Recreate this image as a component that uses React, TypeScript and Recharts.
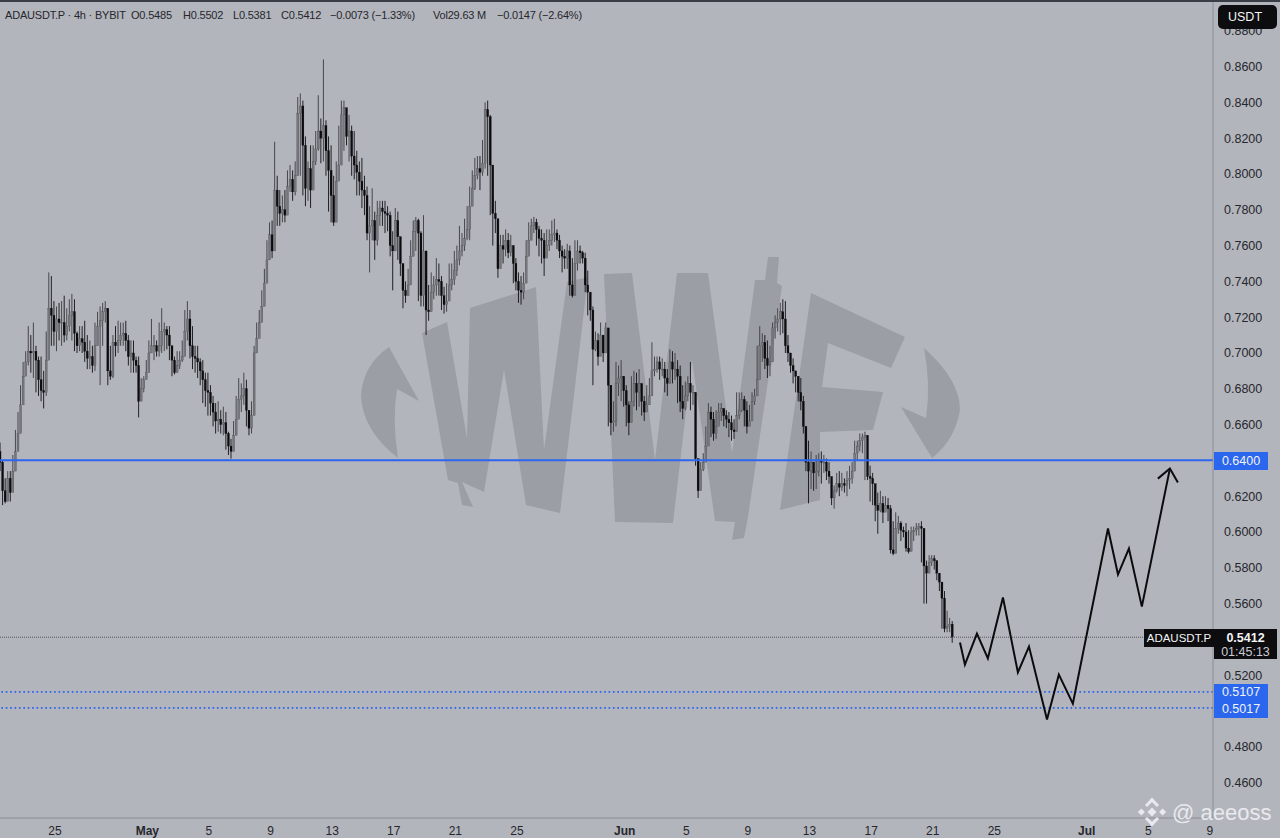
import { Bar, ComposedChart, Line, ReferenceLine, XAxis, YAxis } from "recharts";

const firstOpen = 0.645;

// one row = 12 candles of 4h = 2 days
const closes = [
  0.639, 0.623, 0.617, 0.63, 0.622, 0.634, 0.645, 0.655, 0.671, 0.687, 0.695, 0.701,
  0.7, 0.701, 0.696, 0.685, 0.679, 0.678, 0.696, 0.725, 0.721, 0.712, 0.719, 0.717,
  0.717, 0.71, 0.715, 0.721, 0.723, 0.711, 0.704, 0.708, 0.706, 0.701, 0.697, 0.698,
  0.693, 0.704, 0.715, 0.718, 0.723, 0.725, 0.69, 0.687, 0.706, 0.704, 0.707, 0.71,
  0.711, 0.707, 0.698, 0.7, 0.696, 0.693, 0.673, 0.68, 0.685, 0.689, 0.7, 0.704,
  0.704, 0.701, 0.704, 0.712, 0.713, 0.71, 0.704, 0.696, 0.689, 0.693, 0.696, 0.698,
  0.712, 0.719, 0.704, 0.698, 0.697, 0.695, 0.69, 0.685, 0.679, 0.678, 0.672, 0.667,
  0.662, 0.663, 0.66, 0.661, 0.655, 0.648, 0.645, 0.654, 0.663, 0.674, 0.676, 0.68,
  0.668, 0.658, 0.665, 0.7, 0.708, 0.717, 0.726, 0.739, 0.752, 0.766, 0.757, 0.791,
  0.782, 0.778, 0.78, 0.777, 0.793, 0.797, 0.79, 0.799, 0.834, 0.838, 0.816, 0.792,
  0.803, 0.791, 0.807, 0.814, 0.824, 0.82, 0.827, 0.813, 0.802, 0.788, 0.773, 0.796,
  0.805, 0.833, 0.837, 0.821, 0.824, 0.81, 0.805, 0.801, 0.796, 0.791, 0.788, 0.767,
  0.771, 0.774, 0.763, 0.777, 0.781, 0.779, 0.778, 0.777, 0.76, 0.757, 0.774, 0.765,
  0.75, 0.735, 0.732, 0.738, 0.754, 0.768, 0.774, 0.767, 0.732, 0.757, 0.724, 0.723,
  0.734, 0.738, 0.741, 0.74, 0.732, 0.727, 0.729, 0.738, 0.741, 0.746, 0.752, 0.757,
  0.76, 0.764, 0.769, 0.782, 0.792, 0.799, 0.803, 0.801, 0.806, 0.836, 0.832, 0.805,
  0.778, 0.775, 0.747, 0.76, 0.758, 0.763, 0.756, 0.76, 0.75, 0.74, 0.735, 0.734,
  0.739, 0.754, 0.763, 0.771, 0.773, 0.769, 0.764, 0.763, 0.753, 0.76, 0.763, 0.766,
  0.767, 0.763, 0.757, 0.754, 0.753, 0.757, 0.738, 0.732, 0.75, 0.757, 0.756, 0.753,
  0.738, 0.734, 0.724, 0.702, 0.707, 0.698, 0.71, 0.7, 0.714, 0.682, 0.661, 0.662,
  0.683, 0.686, 0.687, 0.679, 0.671, 0.661, 0.673, 0.683, 0.678, 0.683, 0.673, 0.667,
  0.671, 0.676, 0.69, 0.691, 0.695, 0.691, 0.691, 0.686, 0.683, 0.695, 0.691, 0.691,
  0.687, 0.673, 0.669, 0.676, 0.683, 0.678, 0.678, 0.641, 0.623, 0.635, 0.639, 0.648,
  0.667, 0.663, 0.655, 0.659, 0.667, 0.669, 0.665, 0.663, 0.661, 0.657, 0.656, 0.665,
  0.668, 0.674, 0.668, 0.659, 0.662, 0.673, 0.676, 0.685, 0.704, 0.706, 0.697, 0.693,
  0.695, 0.714, 0.717, 0.719, 0.723, 0.719, 0.704, 0.7, 0.693, 0.69, 0.687, 0.678,
  0.673, 0.659, 0.639, 0.634, 0.639, 0.633, 0.634, 0.64, 0.639, 0.639, 0.634, 0.631,
  0.619, 0.623, 0.627, 0.625, 0.627, 0.626, 0.629, 0.63, 0.634, 0.644, 0.648, 0.651,
  0.653, 0.654, 0.631, 0.63, 0.627, 0.615, 0.612, 0.616, 0.611, 0.615, 0.613, 0.59,
  0.588, 0.602, 0.605, 0.601, 0.6, 0.591, 0.589, 0.6, 0.601, 0.602, 0.603, 0.602,
  0.581, 0.577, 0.583, 0.585, 0.584, 0.577, 0.572, 0.563, 0.546, 0.547, 0.5485, 0.5412,
];

const highs = [
  0.65, 0.64, 0.63, 0.634, 0.634, 0.643, 0.657, 0.667, 0.682, 0.695, 0.701, 0.715,
  0.71, 0.717, 0.704, 0.698, 0.698, 0.69, 0.712, 0.745, 0.743, 0.729, 0.726, 0.728,
  0.729, 0.732, 0.725, 0.73, 0.733, 0.73, 0.712, 0.715, 0.715, 0.718, 0.71, 0.707,
  0.704, 0.717, 0.723, 0.726, 0.728, 0.729, 0.719, 0.704, 0.71, 0.715, 0.718, 0.717,
  0.717, 0.718, 0.71, 0.707, 0.707, 0.698, 0.698, 0.686, 0.687, 0.696, 0.707, 0.719,
  0.71, 0.707, 0.717, 0.725, 0.717, 0.715, 0.715, 0.704, 0.698, 0.701, 0.701, 0.707,
  0.724, 0.729, 0.724, 0.715, 0.704, 0.704, 0.697, 0.696, 0.689, 0.689, 0.682, 0.676,
  0.672, 0.673, 0.668, 0.67, 0.667, 0.656, 0.652, 0.662, 0.676, 0.686, 0.683, 0.689,
  0.685, 0.668, 0.673, 0.704, 0.717, 0.724, 0.735, 0.747, 0.763, 0.773, 0.774, 0.818,
  0.799, 0.791, 0.788, 0.791, 0.802, 0.805, 0.802, 0.807, 0.843, 0.845, 0.841, 0.821,
  0.807, 0.816, 0.816, 0.824, 0.844, 0.831, 0.864, 0.83, 0.821, 0.816, 0.799, 0.807,
  0.827, 0.841, 0.841, 0.836, 0.833, 0.827, 0.824, 0.813, 0.807, 0.809, 0.799, 0.793,
  0.782, 0.792, 0.779, 0.785, 0.785, 0.785, 0.785, 0.782, 0.779, 0.768, 0.781, 0.779,
  0.763, 0.749, 0.74, 0.747, 0.763, 0.774, 0.776, 0.775, 0.768, 0.777, 0.757, 0.738,
  0.745, 0.743, 0.753, 0.75, 0.743, 0.737, 0.739, 0.75, 0.75, 0.757, 0.76, 0.771,
  0.767, 0.775, 0.782, 0.793, 0.802, 0.809, 0.81, 0.81, 0.819, 0.84, 0.841, 0.833,
  0.788, 0.785, 0.771, 0.766, 0.766, 0.769, 0.767, 0.766, 0.76, 0.753, 0.745, 0.743,
  0.745, 0.763, 0.773, 0.775, 0.776, 0.775, 0.771, 0.769, 0.767, 0.769, 0.769, 0.774,
  0.775, 0.769, 0.766, 0.76, 0.758, 0.761, 0.76, 0.753, 0.763, 0.763, 0.76, 0.757,
  0.756, 0.746, 0.732, 0.726, 0.712, 0.711, 0.717, 0.71, 0.717, 0.712, 0.682, 0.673,
  0.695, 0.693, 0.696, 0.687, 0.682, 0.673, 0.687, 0.69, 0.689, 0.691, 0.682, 0.676,
  0.682, 0.686, 0.706, 0.698, 0.698, 0.698, 0.697, 0.695, 0.691, 0.702, 0.701, 0.7,
  0.696, 0.693, 0.682, 0.684, 0.687, 0.695, 0.682, 0.678, 0.64, 0.639, 0.644, 0.659,
  0.672, 0.67, 0.667, 0.668, 0.672, 0.672, 0.669, 0.668, 0.667, 0.665, 0.663, 0.678,
  0.678, 0.678, 0.676, 0.673, 0.671, 0.678, 0.68, 0.704, 0.715, 0.711, 0.71, 0.707,
  0.704, 0.717, 0.721, 0.725, 0.728, 0.73, 0.729, 0.71, 0.7, 0.697, 0.69, 0.687,
  0.686, 0.676, 0.659, 0.651, 0.645, 0.639, 0.643, 0.644, 0.645, 0.643, 0.641, 0.639,
  0.63, 0.626, 0.633, 0.634, 0.633, 0.63, 0.634, 0.637, 0.639, 0.651, 0.651, 0.655,
  0.655, 0.656, 0.654, 0.637, 0.633, 0.623, 0.622, 0.623, 0.62, 0.62, 0.619, 0.615,
  0.606, 0.611, 0.609, 0.606, 0.603, 0.605, 0.601, 0.603, 0.603, 0.605, 0.605, 0.606,
  0.602, 0.584, 0.587, 0.587, 0.587, 0.584, 0.577, 0.572, 0.567, 0.556, 0.552, 0.5502,
];

const lows = [
  0.634, 0.615, 0.616, 0.62, 0.617, 0.626, 0.64, 0.651, 0.656, 0.673, 0.689, 0.693,
  0.689, 0.686, 0.678, 0.676, 0.673, 0.669, 0.676, 0.707, 0.704, 0.704, 0.701, 0.707,
  0.704, 0.706, 0.707, 0.712, 0.707, 0.701, 0.7, 0.701, 0.7, 0.695, 0.691, 0.691,
  0.689, 0.69, 0.704, 0.682, 0.704, 0.717, 0.682, 0.685, 0.686, 0.698, 0.7, 0.704,
  0.704, 0.701, 0.693, 0.689, 0.689, 0.689, 0.664, 0.676, 0.678, 0.686, 0.696, 0.701,
  0.696, 0.698, 0.698, 0.7, 0.701, 0.702, 0.696, 0.687, 0.688, 0.689, 0.691, 0.695,
  0.704, 0.707, 0.697, 0.691, 0.689, 0.686, 0.682, 0.672, 0.67, 0.665, 0.665, 0.659,
  0.655, 0.656, 0.655, 0.654, 0.646, 0.643, 0.641, 0.645, 0.654, 0.671, 0.667, 0.671,
  0.659, 0.654, 0.655, 0.671, 0.704, 0.71, 0.721, 0.735, 0.746, 0.757, 0.753, 0.782,
  0.771, 0.771, 0.773, 0.773, 0.782, 0.79, 0.785, 0.788, 0.799, 0.799, 0.788, 0.782,
  0.785, 0.781, 0.799, 0.805, 0.813, 0.806, 0.807, 0.799, 0.779, 0.773, 0.771, 0.788,
  0.799, 0.805, 0.813, 0.816, 0.807, 0.799, 0.797, 0.788, 0.788, 0.781, 0.777, 0.763,
  0.745, 0.763, 0.752, 0.76, 0.771, 0.771, 0.767, 0.768, 0.754, 0.735, 0.757, 0.752,
  0.743, 0.725, 0.728, 0.732, 0.75, 0.754, 0.757, 0.729, 0.726, 0.726, 0.71, 0.718,
  0.726, 0.73, 0.732, 0.732, 0.724, 0.722, 0.723, 0.73, 0.735, 0.738, 0.743, 0.749,
  0.754, 0.757, 0.763, 0.763, 0.782, 0.791, 0.797, 0.791, 0.799, 0.803, 0.799, 0.777,
  0.76, 0.767, 0.742, 0.75, 0.75, 0.754, 0.753, 0.754, 0.739, 0.735, 0.728, 0.727,
  0.73, 0.746, 0.757, 0.763, 0.767, 0.76, 0.754, 0.75, 0.743, 0.754, 0.757, 0.76,
  0.762, 0.758, 0.753, 0.745, 0.747, 0.747, 0.732, 0.731, 0.743, 0.746, 0.75, 0.75,
  0.734, 0.721, 0.718, 0.682, 0.701, 0.693, 0.701, 0.695, 0.7, 0.659, 0.654, 0.656,
  0.659, 0.676, 0.673, 0.67, 0.659, 0.654, 0.665, 0.67, 0.668, 0.67, 0.665, 0.662,
  0.667, 0.672, 0.685, 0.687, 0.689, 0.685, 0.687, 0.678, 0.676, 0.686, 0.683, 0.685,
  0.672, 0.667, 0.663, 0.668, 0.673, 0.668, 0.671, 0.637, 0.619, 0.63, 0.634, 0.644,
  0.648, 0.653, 0.651, 0.652, 0.661, 0.662, 0.659, 0.658, 0.653, 0.651, 0.652, 0.656,
  0.663, 0.667, 0.659, 0.655, 0.659, 0.667, 0.671, 0.678, 0.698, 0.695, 0.691, 0.686,
  0.687, 0.704, 0.708, 0.712, 0.71, 0.711, 0.7, 0.695, 0.689, 0.683, 0.678, 0.673,
  0.668, 0.655, 0.634, 0.616, 0.624, 0.623, 0.624, 0.631, 0.627, 0.633, 0.629, 0.627,
  0.615, 0.613, 0.622, 0.62, 0.623, 0.622, 0.62, 0.624, 0.627, 0.639, 0.64, 0.645,
  0.644, 0.629, 0.629, 0.617, 0.615, 0.606, 0.599, 0.611, 0.605, 0.612, 0.606, 0.588,
  0.587, 0.588, 0.599, 0.595, 0.597, 0.589, 0.588, 0.594, 0.595, 0.598, 0.598, 0.583,
  0.56, 0.56, 0.577, 0.581, 0.579, 0.573, 0.567, 0.546, 0.544, 0.544, 0.544, 0.5381,
];

// x axis counts days from Apr 25
const startDay = -3.55;
const dayTicks = [0, 6, 10, 14, 18, 22, 26, 30, 37, 41, 45, 49, 53, 57, 61, 67, 71, 75];
const dayLabels = ["25", "May", "5", "9", "13", "17", "21", "25", "Jun", "5", "9", "13", "17", "21", "25", "Jul", "5", "9"];
const monthLabels = ["May", "Jun", "Jul"];

const priceTicks = [0.46, 0.48, 0.52, 0.56, 0.58, 0.6, 0.62, 0.66, 0.68, 0.7, 0.72, 0.74, 0.76, 0.78, 0.8, 0.82, 0.84, 0.86, 0.88];

// hand drawn forecast
const forecast = [
  { t: 58.77, v: 0.5382 }, { t: 59.09, v: 0.5259 }, { t: 59.87, v: 0.5432 }, { t: 60.58, v: 0.5293 },
  { t: 61.56, v: 0.5634 }, { t: 62.53, v: 0.5215 }, { t: 63.25, v: 0.536 }, { t: 64.42, v: 0.4952 },
  { t: 65.19, v: 0.5203 }, { t: 66.1, v: 0.5041 }, { t: 68.38, v: 0.6019 }, { t: 69.03, v: 0.5762 },
  { t: 69.74, v: 0.5907 }, { t: 70.58, v: 0.5583 }, { t: 72.4, v: 0.6354 },
];
const arrowHead = [{ t: 71.62, v: 0.6298 }, { t: 72.4, v: 0.6354 }, { t: 72.92, v: 0.6276 }];

const legendParts = [
  { left: 5, text: "ADAUSDT.P · 4h · BYBIT" },
  { left: 131, text: "O0.5485" },
  { left: 183, text: "H0.5502" },
  { left: 233, text: "L0.5381" },
  { left: 281, text: "C0.5412" },
  { left: 330, text: "−0.0073 (−1.33%)" },
  { left: 433, text: "Vol29.63 M" },
  { left: 497, text: "−0.0147 (−2.64%)" },
];

const firstPrice = 0.64;
const zoneTop = 0.5107;
const zoneBottom = 0.5017;
const lastPrice = 0.5412;

const chartData = closes.map((close, i) => ({
  t: startDay + i / 6,
  open: i === 0 ? firstOpen : closes[i - 1],
  close,
  high: highs[i],
  low: lows[i],
  range: [lows[i], highs[i]],
}));

const FONT = "'Liberation Sans', Arial, sans-serif";
const BG = "#b3b5bd";
const INK = "#26272c";
const BLUE = "#2b66ee";

const Candle = (props: any) => {
  const { x, y, width, height, payload } = props;
  const { open, close, high, low } = payload;
  const ratio = height / (high - low);
  const top = y + (high - Math.max(open, close)) * ratio;
  const h = Math.max(Math.abs(open - close) * ratio, 1);
  const up = close >= open;
  const cx = x + width / 2;
  return (
    <g>
      <line x1={cx} x2={cx} y1={y} y2={y + height} stroke={up ? "#3a3b40" : "#111114"} strokeWidth={0.9} />
      <rect x={cx - 1} y={top} width={2} height={h} fill={up ? "#76777d" : "#0c0c0e"} stroke={up ? "#4b4c52" : "#0c0c0e"} strokeWidth={0.3} />
    </g>
  );
};

const DayTick = (props: any) => {
  const { x, y, index } = props;
  const label = dayLabels[index];
  return (
    <text x={x} y={y + 9} textAnchor="middle" fontFamily={FONT} fontSize={12} fill={INK} fontWeight={monthLabels.includes(label) ? 700 : 400}>
      {label}
    </text>
  );
};

const Watermark = () => (
  <svg width={1280} height={838} style={{ position: "absolute", left: 0, top: 0 }}>
    <g fill="#9c9ea5">
      <path d="M389 347 L419 401 L397 389 Q392 420 398 458 Q362 430 361 395 Q363 365 389 347 Z" />
      <polygon points="422,333 447,322 467,438 470,308 536,287 544,450 567,282 588,277 560,513 526,505 504,370 484,492 462,482 473,507 462,505 458,483 448,480" />
      <polygon points="604,274 632,273 655,460 677,273 708,273 732,453 755,280 765,280 768,257 779,257 777,283 782,286 748,517 744,538 732,540 735,522 715,521 692,360 673,523 615,522" />
      <polygon points="811,293 905,337 891,368 828,343 822,387 883,392 873,430 820,432 820,500 780,510" />
      <path d="M924 348 Q960 380 960 410 Q955 440 932 458 L901 407 L926 418 Q931 385 924 348 Z" />
    </g>
  </svg>
);

const tagStyle = (left: number, top: number, width: number, height: number, background: string, fontSize = 12.5) => ({
  position: "absolute" as const,
  left,
  top,
  width,
  height,
  background,
  color: "#f2f3f5",
  fontFamily: FONT,
  fontSize,
  lineHeight: `${height}px`,
  textAlign: "center" as const,
});

const App = () => {
  return (
    <div style={{ position: "absolute", left: 0, top: 0, width: 1280, height: 838, background: BG, overflow: "hidden" }}>
      <Watermark />

      <div style={{ position: "absolute", left: 0, top: 0 }}>
        <ComposedChart width={1280} height={838} data={chartData} margin={{ top: 0, right: 0, bottom: 0, left: 0 }}>
          <XAxis
            dataKey="t"
            type="number"
            domain={[-3.57, 75.2]}
            allowDataOverflow
            ticks={dayTicks}
            interval={0}
            height={20}
            tickLine={false}
            axisLine={{ stroke: "#8c8e95" }}
            tick={<DayTick />}
          />
          <YAxis
            orientation="right"
            width={67}
            domain={[0.4402, 0.8972]}
            allowDataOverflow
            ticks={priceTicks}
            interval={0}
            tickFormatter={(v: number) => v.toFixed(4)}
            tickLine={false}
            tickMargin={5}
            axisLine={{ stroke: "#8c8e95" }}
            tick={{ fill: INK, fontSize: 12.5, fontFamily: FONT }}
          />

          <ReferenceLine y={lastPrice} stroke="#55565c" strokeWidth={1} strokeDasharray="1 1" />
          <ReferenceLine y={firstPrice} stroke={BLUE} strokeWidth={2} />
          <ReferenceLine y={zoneTop} stroke={BLUE} strokeWidth={1.7} strokeDasharray="1.7 2.7" />
          <ReferenceLine y={zoneBottom} stroke={BLUE} strokeWidth={1.7} strokeDasharray="1.7 2.7" />

          <Bar dataKey="range" barSize={2} shape={<Candle />} isAnimationActive={false} />
          <Line data={forecast} dataKey="v" stroke="#0b0b0d" strokeWidth={2} dot={false} isAnimationActive={false} />
          <Line data={arrowHead} dataKey="v" stroke="#0b0b0d" strokeWidth={2} dot={false} isAnimationActive={false} />
        </ComposedChart>
      </div>

      <div style={{ position: "absolute", left: 0, top: 0, width: 1280, height: 1.5, background: "#3b3d46" }} />

      {legendParts.map((part) => (
        <span
          key={part.left}
          style={{ position: "absolute", left: part.left, top: 8, fontFamily: FONT, fontSize: 11, letterSpacing: -0.2, lineHeight: "14px", color: INK, whiteSpace: "nowrap" }}
        >
          {part.text}
        </span>
      ))}

      <div style={{ ...tagStyle(1218, 5, 59, 24, "#0d0d10"), borderRadius: 5, textAlign: "left", paddingLeft: 10, width: 49 }}>USDT</div>
      <div style={tagStyle(1214, 452, 54, 18, BLUE)}>0.6400</div>
      <div style={tagStyle(1214, 684, 54, 17, BLUE)}>0.5107</div>
      <div style={tagStyle(1214, 701, 54, 17, BLUE)}>0.5017</div>
      <div style={tagStyle(1144, 629, 70, 18, "#0d0d10", 11.5)}>ADAUSDT.P</div>
      <div style={{ ...tagStyle(1214, 629, 63, 30, "#0d0d10"), lineHeight: "14px", paddingTop: 2, height: 28, fontWeight: 700 }}>
        0.5412
        <div style={{ fontWeight: 400, color: "#c9cad0" }}>01:45:13</div>
      </div>

      <svg width={1280} height={838} style={{ position: "absolute", left: 0, top: 0, pointerEvents: "none" }}>
        <g fill="#e9eaee" transform="translate(1152,812) rotate(45)">
          <rect x={-3.2} y={-3.2} width={6.4} height={6.4} />
          <rect x={-10} y={-10} width={10} height={3} />
          <rect x={-10} y={-10} width={3} height={10} />
          <rect x={0} y={7} width={10} height={3} />
          <rect x={7} y={0} width={3} height={10} />
          <rect x={5} y={-10} width={5} height={5} />
          <rect x={-10} y={5} width={5} height={5} />
        </g>
        <text x={1172} y={820} fontFamily={FONT} fontSize={22} fill="#e9eaee">@ aeeoss</text>
      </svg>
    </div>
  );
};

export default App;
